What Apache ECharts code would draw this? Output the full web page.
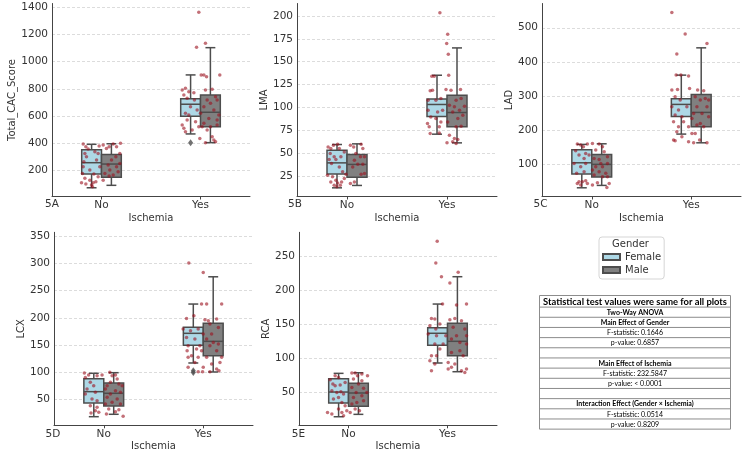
<!DOCTYPE html>
<html>
<head>
<meta charset="utf-8">
<title>Ischemia boxplots</title>
<script src="https://cdn.jsdelivr.net/npm/echarts@6.0.0/dist/echarts.min.js"></script>
<style>
html, body { margin: 0; padding: 0; background: #fff; }
#chart { width: 750px; height: 459px; }
</style>
</head>
<body>
<div id="chart"></div>
<script>
const categories = ['No', 'Yes'];
const genders = ['Female', 'Male'];
const panelLabels = ['5A', '5B', '5C', '5D', '5E'];
const yNames = ['Total_CAC_Score', 'LMA', 'LAD', 'LCX', 'RCA'];
const yMin = [11, 2.4, 6, 3, 2.1];
const yMax = [1427, 213.6, 571, 357, 285.9];
const yStep = [200, 25, 100, 50, 50];

// box stats per category (No, Yes): [min, q1, median, q3, max]
const boxA_Female = [[75, 176, 259, 354, 394], [470, 600, 688, 729, 903]];
const boxA_Male = [[93, 152, 249, 320, 398], [406, 523, 629, 756, 1103]];
const boxB_Female = [[11.9, 26.9, 39.2, 53.1, 59.3], [70.6, 90, 103.1, 109.2, 135.1]];
const boxB_Male = [[14.5, 23.6, 37.5, 48.4, 60], [61.1, 78.6, 94.3, 113.3, 165]];
const boxC_Female = [[31.5, 71.6, 104.7, 142.7, 158.5], [188.7, 240.5, 275.6, 292, 361.3]];
const boxC_Male = [[38.5, 62.8, 100, 129.3, 160.3], [163.2, 210, 252.2, 304.9, 441.2]];
const boxD_Female = [[18.8, 44, 64.7, 88.5, 98.4], [117.3, 149.7, 171.7, 182.7, 225.4]];
const boxD_Male = [[23.2, 38.5, 61.7, 80.6, 99.5], [100.8, 130.6, 157, 190, 275.4]];
const boxE_Female = [[14.7, 34.9, 51, 70.6, 78.5], [93.7, 119.7, 137.4, 145.6, 180.4]];
const boxE_Male = [[18.2, 30, 49.6, 63.8, 79.4], [80.9, 104.4, 125.6, 152, 220.6]];

// outliers of the Female / Yes box in each panel
const fliersFemaleYes = [[405], [], [], [100, 103], []];

// strip points: [jitter, value]
const ptsA_No = [[-0.185,396],[-0.158,376],[-0.135,359],[-0.168,327],[-0.152,303],[-0.178,266],[-0.185,229],[-0.118,205],[-0.192,180],[-0.168,144],[-0.202,112],[-0.158,102],[-0.118,131],[-0.101,95],[-0.084,112],[-0.057,119],[-0.034,156],[-0.077,176],[-0.017,229],[-0.05,278],[-0.034,327],[-0.067,340],[-0.024,381],[0.017,389],[0.05,364],[0.077,376],[0.118,396],[0.152,376],[0.192,401],[0.185,327],[0.145,303],[0.101,278],[0.067,242],[0.152,229],[0.084,205],[0.034,180],[0.118,168],[0.017,131],[0.077,161],[0.185,254],[0.168,193],[-0.091,82]];
const ptsA_Yes = [[-0.017,1363],[0.05,1135],[-0.04,1106],[0.007,903],[0.034,903],[0.061,890],[0.195,903],[-0.185,792],[-0.152,805],[-0.118,780],[-0.168,756],[-0.135,731],[0.05,792],[0.118,797],[-0.061,719],[-0.101,670],[-0.034,646],[-0.152,621],[0,621],[0.067,719],[0.101,695],[0.168,719],[0.152,743],[0.034,670],[0.135,646],[0.185,609],[0.084,584],[0.168,572],[0.034,548],[-0.05,560],[-0.135,572],[-0.017,523],[-0.168,511],[-0.185,535],[-0.084,499],[-0.152,486],[0.017,523],[0.101,523],[0.168,535],[0.067,499],[-0.007,437],[0.118,450],[0.135,425],[0.05,406],[0.152,413],[-0.118,609],[-0.067,773]];
const ptsB_No = [[-0.189,56.7],[-0.162,54.9],[-0.135,58.5],[-0.094,59.6],[-0.077,54.9],[-0.168,49.4],[-0.128,45.8],[-0.178,42.9],[-0.111,42.9],[-0.061,45.8],[-0.027,51.2],[-0.155,38.5],[-0.077,34.8],[-0.195,25.7],[-0.145,23.9],[-0.111,20.3],[-0.162,18.4],[-0.094,17.3],[-0.128,14.8],[-0.067,14.8],[-0.054,18.4],[-0.027,22.1],[-0.01,26.8],[-0.044,29.4],[-0.101,13],[0.034,58.5],[0.067,56.7],[0.141,59.6],[0.158,54.9],[0.088,49.4],[0.135,45.8],[0.175,45.8],[0.074,42.1],[0.108,37.8],[0.158,37.8],[0.057,34.8],[0.175,27.6],[0.141,26.8],[0.034,16.6],[0.074,18.4]];
const ptsB_Yes = [[-0.071,203.6],[0.007,179.9],[-0.003,169.7],[0.013,158],[0.017,135],[-0.128,134],[-0.152,134],[-0.168,118],[-0.145,118.7],[-0.01,119.4],[0.04,118.7],[0.135,119.4],[-0.189,107.7],[-0.111,107.7],[-0.061,109.6],[0.091,107.7],[0.141,109.6],[0.024,102.3],[0.074,100.5],[0.175,101.2],[-0.189,96.8],[-0.094,95],[-0.044,96.8],[0.057,95],[0.125,96.8],[0.158,91.3],[-0.162,89.5],[-0.111,87.7],[0.108,87.7],[-0.061,84],[-0.195,82.2],[-0.178,78.6],[-0.077,78.6],[0.007,84],[0.091,78.6],[0.141,79.3],[-0.168,71.3],[-0.077,72],[0.024,69.5],[0.074,65.8],[0,61.1],[0.057,62.2],[0.108,64.7],[0.091,60.4]];
const ptsC_No = [[-0.145,159.5],[-0.111,156.6],[-0.084,151.7],[-0.044,159.5],[-0.162,140],[-0.128,127.3],[-0.061,132.2],[-0.077,117.6],[-0.027,127.3],[-0.178,102.9],[-0.111,93.2],[-0.061,102.9],[-0.152,73.7],[-0.077,78.5],[-0.128,49.3],[-0.145,44.4],[-0.094,49.3],[-0.061,52.2],[-0.044,44.4],[-0.111,39.5],[0.007,161.5],[0.074,159.5],[0.108,151.7],[0.04,141.9],[0.125,137.1],[0.158,122.4],[0.024,117.6],[0.074,114.6],[0.091,102.9],[0.158,102.9],[0.04,93.2],[0.108,93.2],[0.007,83.4],[0.074,78.5],[0.141,73.7],[0.024,68.8],[0.108,63.9],[0.158,63.9],[0.057,46.3],[0.175,44.4],[0.152,32.7],[0.007,39.5]];
const ptsC_Yes = [[-0.195,544.8],[-0.061,481.4],[-0.145,422.9],[-0.152,361.4],[-0.104,361.4],[-0.027,358.5],[0.158,454.1],[0.125,315.6],[0.064,317.5],[-0.195,317.5],[-0.138,319.5],[-0.017,322.4],[-0.162,298],[-0.111,288.3],[0.04,298],[0.091,288.3],[0.141,293.1],[0.175,288.3],[-0.195,268.8],[-0.128,259],[-0.044,268.8],[0.057,268.8],[0.158,268.8],[0.024,249.3],[0.108,249.3],[-0.162,244.4],[-0.094,239.5],[0.007,234.6],[0.175,239.5],[-0.178,224.9],[-0.077,224.9],[-0.128,210.2],[-0.027,210.2],[0.057,215.1],[0.125,210.2],[0.091,219.9],[-0.145,195.6],[0.007,190.7],[0.04,190.7],[-0.178,171.2],[-0.162,169.3],[-0.027,166.3],[0.024,163.4],[0.084,171.2],[0.158,163.4],[-0.094,181]];
const ptsD_No = [[-0.195,98.9],[-0.152,95.2],[-0.185,90.9],[-0.067,94],[-0.017,95.2],[-0.135,81.8],[-0.101,75.7],[-0.168,69.5],[-0.185,60.4],[-0.084,63.4],[-0.118,51.2],[-0.067,48.2],[-0.135,39],[-0.084,29.8],[-0.05,26.8],[-0.128,25.6],[-0.067,35.9],[0.061,100.1],[0.084,94],[0.118,95.2],[0.135,87.9],[0.067,81.8],[0.034,75.7],[0.152,78.7],[0.185,75.7],[0.017,69.5],[0.118,66.5],[0.168,63.4],[0.067,60.4],[0.034,54.3],[0.135,51.2],[0.084,45.1],[0.017,42.1],[0.168,42.1],[0.05,32.9],[0.152,31.7],[0.118,28],[0.027,23.7],[0.195,19.5]];
const ptsD_Yes = [[-0.145,300.5],[0,283.4],[-0.017,225.3],[0.034,225.3],[0.185,225.3],[-0.168,199.1],[-0.094,204],[0.017,196.6],[0.051,194.8],[0.135,197.8],[0.067,188.7],[0.152,182.6],[-0.202,179.5],[-0.128,176.5],[-0.051,179.5],[0,170.3],[0.084,170.3],[-0.168,164.2],[-0.084,161.2],[0.034,161.2],[0.101,155.1],[0.152,152],[-0.152,149],[-0.034,149],[0.067,149],[-0.067,142.9],[-0.162,139.8],[-0.118,130.6],[-0.017,139.8],[0.135,139.8],[-0.152,127.6],[-0.051,127.6],[0.034,127.6],[0.185,127.6],[0.168,118.4],[-0.084,118.4],[0.084,115.4],[-0.152,109.3],[0,109.3],[0.135,106.2],[-0.051,101.3],[0.067,101.3],[0.158,103.1],[-0.007,101.3]];
const ptsE_No = [[-0.135,75],[-0.101,72.5],[-0.185,69.1],[-0.158,62.7],[-0.135,60.3],[-0.084,61.3],[-0.034,65.2],[-0.168,52.9],[-0.118,50.5],[-0.077,51.5],[-0.05,48],[-0.152,40.7],[-0.101,43.1],[-0.067,35.8],[-0.034,30.9],[-0.212,21.1],[-0.168,18.6],[-0.101,26],[-0.067,21.1],[-0.05,16.2],[-0.017,23.5],[0.034,78.9],[0.067,78.9],[0.091,75],[0.135,77.5],[0.192,75],[0.05,70.1],[0.135,67.6],[0.101,62.7],[0.034,57.8],[0.152,56.4],[0.077,50.5],[0.185,50.5],[0.135,45.6],[0.05,43.1],[0.152,38.2],[0.084,35.8],[0.034,33.3],[0.067,26],[0.017,21.1],[0.111,23.5]];
const ptsE_Yes = [[-0.104,272.6],[-0.118,240.7],[-0.061,220.6],[0.108,227],[0.024,211.3],[-0.05,180.4],[0.091,178.9],[0.192,180.4],[-0.162,159.3],[-0.128,158.3],[0.024,157.4],[0.074,159.3],[0.141,155.9],[-0.178,148.5],[-0.118,143.6],[-0.077,151],[0.057,146.1],[0.175,143.6],[-0.195,136.3],[-0.111,133.8],[-0.017,133.8],[0.091,133.8],[0.192,133.8],[0.04,128.9],[0.125,124],[-0.128,121.6],[-0.044,121.6],[0.192,121.6],[-0.077,114.2],[0.04,109.3],[0.125,111.8],[-0.162,104.4],[-0.111,104.4],[0.158,104.4],[-0.178,97.1],[-0.128,92.2],[0.007,94.6],[0.074,92.2],[0.04,87.3],[-0.162,82.4],[0.007,84.8],[0.141,82.4],[0.175,79.9],[0.192,84.8]];

const tableTitle = 'Statistical test values were same for all plots';
const tableRows = ['Two-Way ANOVA', 'Main Effect of Gender', 'F-statistic: 0.1646', 'p-value: 0.6857', '',
  'Main Effect of Ischemia', 'F-statistic: 232.5847', 'p-value: < 0.0001', '',
  'Interaction Effect (Gender \u00d7 Ischemia)', 'F-statistic: 0.0514', 'p-value: 0.8209'];
const tableBold = [true, true, false, false, false, true, false, false, false, true, false, false];

const panels = [
  { box: [boxA_Female, boxA_Male], pts: [ptsA_No, ptsA_Yes] },
  { box: [boxB_Female, boxB_Male], pts: [ptsB_No, ptsB_Yes] },
  { box: [boxC_Female, boxC_Male], pts: [ptsC_No, ptsC_Yes] },
  { box: [boxD_Female, boxD_Male], pts: [ptsD_No, ptsD_Yes] },
  { box: [boxE_Female, boxE_Male], pts: [ptsE_No, ptsE_Yes] }
];

const FONT = 'DejaVu Sans';
const TEXT = '#333';
const AXIS = '#444';
const EDGE = '#4d4d4d';
const LW = 1.5;
const boxColors = ['#add8e6', '#808080'];
const DODGE = 0.1, BOX_HALF = 0.1, CAP_HALF = 0.05;

const gridRects = [
  { left: 52, top: 3.5, width: 198, height: 193 },
  { left: 297, top: 3.5, width: 200, height: 193 },
  { left: 542, top: 3.5, width: 199, height: 193 },
  { left: 54, top: 232.3, width: 199, height: 193 },
  { left: 299, top: 232.3, width: 198, height: 193 }
];
const yNameGap = [34, 27, 27, 26, 27];
const xNameGap = [17, 17, 17, 16.5, 16.5];
const labelPos = [[52, 204], [295, 204], [540.5, 204], [53, 434], [298.5, 434]];

function renderBox(params, api) {
  const x = api.value(0);
  const c = (dx, v) => api.coord([x + dx, v]);
  const lo = c(0, api.value(1)), q1 = c(0, api.value(2)), md = c(0, api.value(3));
  const q3 = c(0, api.value(4)), hi = c(0, api.value(5));
  const bl = c(-BOX_HALF, 0)[0], br = c(BOX_HALF, 0)[0];
  const cl = c(-CAP_HALF, 0)[0], cr = c(CAP_HALF, 0)[0];
  const cx = lo[0];
  const line = (x1, y1, x2, y2) => ({
    type: 'line', shape: { x1: x1, y1: y1, x2: x2, y2: y2 },
    style: { stroke: EDGE, lineWidth: LW }
  });
  return {
    type: 'group',
    children: [
      line(cx, hi[1], cx, q3[1]),
      line(cx, q1[1], cx, lo[1]),
      line(cl, hi[1], cr, hi[1]),
      line(cl, lo[1], cr, lo[1]),
      {
        type: 'rect',
        shape: { x: bl, y: q3[1], width: br - bl, height: q1[1] - q3[1] },
        style: { fill: api.visual('color'), stroke: EDGE, lineWidth: LW }
      },
      line(bl, md[1], br, md[1])
    ]
  };
}

const grids = [], xAxes = [], yAxes = [], series = [], graphics = [];

panels.forEach(function (p, i) {
  grids.push(Object.assign({ outerBoundsMode: 'none' }, gridRects[i]));
  xAxes.push({
    type: 'category', gridIndex: i, data: categories,
    axisLine: { onZero: false, lineStyle: { color: AXIS, width: 1 } },
    axisTick: { show: true, length: 3, alignWithLabel: true, lineStyle: { color: AXIS } },
    axisLabel: { color: TEXT, fontSize: 10.5, margin: 3, fontFamily: FONT },
    splitLine: { show: false },
    name: 'Ischemia', nameLocation: 'middle', nameGap: xNameGap[i],
    nameTextStyle: { color: TEXT, fontSize: 10, fontFamily: FONT }
  });
  xAxes.push({ type: 'value', gridIndex: i, min: -0.5, max: 1.5, show: false });
  yAxes.push({
    type: 'value', gridIndex: i, min: yMin[i], max: yMax[i],
    minInterval: yStep[i], maxInterval: yStep[i],
    axisLine: { show: true, onZero: false, lineStyle: { color: AXIS, width: 1 } },
    axisTick: { show: false },
    axisLabel: {
      color: TEXT, fontSize: 10.5, margin: 4, fontFamily: FONT,
      showMinLabel: false, showMaxLabel: false,
      formatter: function (v) { return String(v); }
    },
    splitLine: { show: true, showMinLine: false, showMaxLine: false, lineStyle: { color: '#d3d3d3', width: 0.8, type: [3, 2] } },
    name: yNames[i], nameLocation: 'middle', nameGap: yNameGap[i], nameRotate: 90,
    nameTextStyle: { color: TEXT, fontSize: 10, fontFamily: FONT }
  });

  genders.forEach(function (g, gi) {
    series.push({
      type: 'custom', name: g, xAxisIndex: 2 * i + 1, yAxisIndex: i,
      renderItem: renderBox,
      itemStyle: { color: boxColors[gi], borderColor: EDGE, borderWidth: 1 },
      encode: { x: 0, y: [1, 2, 3, 4, 5] },
      data: p.box[gi].map(function (s, ci) { return [ci + (gi ? DODGE : -DODGE)].concat(s); }),
      z: 2
    });
  });

  series.push({
    type: 'scatter', xAxisIndex: 2 * i + 1, yAxisIndex: i,
    symbol: 'diamond', symbolSize: [5, 7],
    itemStyle: { color: EDGE },
    data: fliersFemaleYes[i].map(function (v) { return [1 - DODGE, v]; }),
    z: 3
  });

  const pts = [];
  p.pts.forEach(function (arr, ci) {
    arr.forEach(function (d) { pts.push([ci + d[0], d[1]]); });
  });
  series.push({
    type: 'scatter', xAxisIndex: 2 * i + 1, yAxisIndex: i,
    symbolSize: 3.5,
    itemStyle: { color: '#9b111e', opacity: 0.6 },
    data: pts, z: 4
  });

  graphics.push({
    type: 'text', x: labelPos[i][0], y: labelPos[i][1],
    style: { text: panelLabels[i], fill: TEXT, font: '10.5px "DejaVu Sans"', textAlign: 'center', textVerticalAlign: 'middle' }
  });
});

// legend title
graphics.push({
  type: 'text', x: 630.5, y: 244.5,
  style: { text: 'Gender', fill: TEXT, font: '10px "DejaVu Sans"', textAlign: 'center', textVerticalAlign: 'middle' }
});

// statistics table
const tx0 = 539.5, tx1 = 730.5, ty0 = 295.5, titleH = 11.6, rowH = 10.17;
const tcx = (tx0 + tx1) / 2;
const tableH = titleH + tableRows.length * rowH;
graphics.push({
  type: 'rect', shape: { x: tx0, y: ty0, width: tx1 - tx0, height: tableH },
  style: { fill: '#fff', stroke: '#8c8c8c', lineWidth: 1 }
});
graphics.push({
  type: 'text', x: tcx, y: ty0 + titleH / 2 + 0.5,
  style: { text: tableTitle, fill: '#000', font: 'bold 9.4px Lato', textAlign: 'center', textVerticalAlign: 'middle' }
});
tableRows.forEach(function (r, k) {
  const yTop = ty0 + titleH + k * rowH;
  graphics.push({
    type: 'line', shape: { x1: tx0, y1: yTop, x2: tx1, y2: yTop },
    style: { stroke: '#8c8c8c', lineWidth: 1 }
  });
  graphics.push({
    type: 'text', x: tcx, y: yTop + rowH / 2 + 0.5,
    style: { text: r, fill: '#000', font: (tableBold[k] ? 'bold ' : '') + '7px Lato', textAlign: 'center', textVerticalAlign: 'middle' }
  });
});

const chart = echarts.init(document.getElementById('chart'), null, { renderer: 'canvas' });
const option = {
  animation: false,
  backgroundColor: '#fff',
  textStyle: { fontFamily: FONT },
  grid: grids,
  xAxis: xAxes,
  yAxis: yAxes,
  legend: {
    data: genders, orient: 'vertical', left: 599, top: 237,
    padding: [14, 3, 3, 3], itemWidth: 17, itemHeight: 6, itemGap: 1,
    icon: 'rect', selectedMode: false,
    borderColor: '#d5d5d5', borderWidth: 1, borderRadius: 3,
    textStyle: { fontSize: 10, color: TEXT, fontFamily: FONT, lineHeight: 12 }
  },
  graphic: graphics,
  series: series
};
chart.setOption(option);
window.addEventListener('resize', chart.resize);
</script>
</body>
</html>
